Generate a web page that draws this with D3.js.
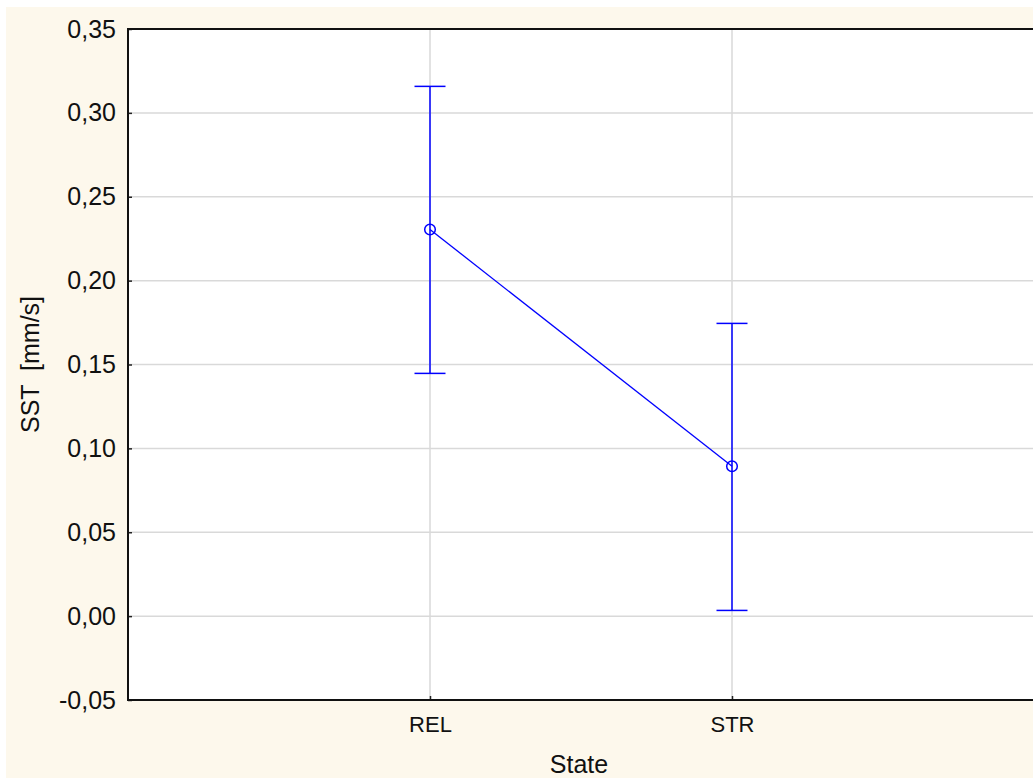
<!DOCTYPE html>
<html>
<head>
<meta charset="utf-8">
<script src="https://cdn.jsdelivr.net/npm/d3@7"></script>
<style>
  body { margin: 0; background: #ffffff; }
  text { font-family: "Liberation Sans", Arial, sans-serif; fill: #111; }
</style>
</head>
<body>
<script>
// data
const states = ["REL", "STR"];
const means = [0.2305, 0.0893];
const upper = [0.3158, 0.1745];
const lower = [0.1447, 0.0034];
const yTicks = [-0.05, 0, 0.05, 0.10, 0.15, 0.20, 0.25, 0.30, 0.35];

const width = 1033, height = 778;
const plotL = 128, plotR = 1034, plotT = 29, plotB = 700;

const svg = d3.select("body").append("svg")
    .attr("width", width)
    .attr("height", height);

// cream background
svg.append("rect")
    .attr("x", 6).attr("y", 7)
    .attr("width", width - 6).attr("height", height - 7)
    .attr("fill", "#fdf8ec");

svg.append("rect")
    .attr("x", plotL).attr("y", plotT)
    .attr("width", plotR - plotL).attr("height", plotB - plotT)
    .attr("fill", "#ffffff");

const y = d3.scaleLinear().domain([-0.05, 0.35]).range([plotB, plotT]);
const x = d3.scalePoint().domain(states).range([plotL, plotR]).padding(1);

const fmt = d => d3.format(".2f")(d).replace(".", ",").replace("−", "-");

// gridlines
svg.append("g").selectAll("line")
    .data(yTicks.slice(1, -1))
    .join("line")
    .attr("x1", plotL).attr("x2", plotR)
    .attr("y1", d => y(d)).attr("y2", d => y(d))
    .attr("stroke", "#d9d9d9").attr("stroke-width", 1.5);

svg.append("g").selectAll("line")
    .data(states)
    .join("line")
    .attr("x1", d => x(d)).attr("x2", d => x(d))
    .attr("y1", plotT).attr("y2", plotB)
    .attr("stroke", "#d9d9d9").attr("stroke-width", 1.5);

// y axis
const yAxis = d3.axisLeft(y).tickValues(yTicks).tickFormat(fmt).tickSize(-4).tickPadding(12);
const gy = svg.append("g").attr("transform", `translate(${plotL},0)`).call(yAxis);
gy.attr("font-size", 25).attr("font-family", null);
gy.select(".domain").remove();
gy.selectAll(".tick line").attr("stroke", "#222").attr("stroke-width", 1.5);
gy.selectAll(".tick text").attr("fill", "#111");

// x axis
const xAxis = d3.axisBottom(x).tickSize(-4).tickPadding(0);
const gx = svg.append("g").attr("transform", `translate(0,${plotB})`).call(xAxis);
gx.attr("font-size", 22).attr("font-family", null);
gx.select(".domain").remove();
gx.selectAll(".tick line").attr("stroke", "#222").attr("stroke-width", 1.5);
gx.selectAll(".tick text").attr("fill", "#111").attr("dy", null).attr("y", 32);

// frame lines
svg.append("line").attr("x1", plotL).attr("x2", plotR).attr("y1", plotT).attr("y2", plotT)
    .attr("stroke", "#111").attr("stroke-width", 2);
svg.append("line").attr("x1", plotL).attr("x2", plotR).attr("y1", plotB).attr("y2", plotB)
    .attr("stroke", "#111").attr("stroke-width", 2);
svg.append("line").attr("x1", plotL).attr("x2", plotL).attr("y1", plotT - 1).attr("y2", plotB + 1)
    .attr("stroke", "#111").attr("stroke-width", 2);

// whiskers
const blue = "#0000ff";
const cap = 15.5;
const g = svg.append("g");
states.forEach((s, i) => {
    g.append("line").attr("x1", x(s)).attr("x2", x(s))
        .attr("y1", y(upper[i])).attr("y2", y(lower[i]))
        .attr("stroke", blue).attr("stroke-width", 1.5);
    [upper[i], lower[i]].forEach(v => {
        g.append("line").attr("x1", x(s) - cap).attr("x2", x(s) + cap)
            .attr("y1", y(v)).attr("y2", y(v))
            .attr("stroke", blue).attr("stroke-width", 1.5);
    });
});

// mean line
g.append("path")
    .datum(states.map((s, i) => [x(s), y(means[i])]))
    .attr("d", d3.line())
    .attr("fill", "none").attr("stroke", blue).attr("stroke-width", 1.3);

g.selectAll("circle")
    .data(states)
    .join("circle")
    .attr("cx", d => x(d)).attr("cy", (d, i) => y(means[i]))
    .attr("r", 5.3)
    .attr("fill", "none").attr("stroke", blue).attr("stroke-width", 1.5);

// axis titles
svg.append("text")
    .attr("x", (plotL + plotR) / 2 - 2).attr("y", 773)
    .attr("text-anchor", "middle").attr("font-size", 25)
    .text("State");

svg.append("text")
    .attr("transform", `translate(39,${(plotT + plotB) / 2}) rotate(-90)`)
    .attr("text-anchor", "middle").attr("font-size", 25)
    .attr("xml:space", "preserve")
    .style("white-space", "pre")
    .text("SST  [mm/s]");
</script>
</body>
</html>
